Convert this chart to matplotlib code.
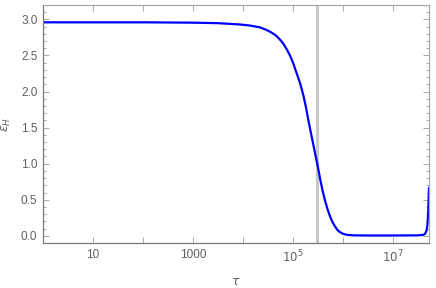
import numpy as np
import matplotlib
matplotlib.use("Agg")
import matplotlib.pyplot as plt
from matplotlib.ticker import FixedLocator, MultipleLocator, NullLocator

# curve: log10(tau) and epsilon_H
log_tau = [0.0, 1.0, 2.0, 3.0, 3.5, 3.94, 4.14, 4.34, 4.45, 4.54, 4.61,
           4.67, 4.74, 4.81, 4.88, 4.94, 5.0, 5.04, 5.09, 5.14, 5.21, 5.26,
           5.30, 5.34, 5.39, 5.44, 5.49, 5.54, 5.59, 5.64, 5.69, 5.74, 5.79,
           5.84, 5.89, 5.94, 6.0, 6.07, 6.2, 6.5, 7.0, 7.5, 7.6, 7.64, 7.67,
           7.69, 7.705, 7.72]
eps_H = [2.96, 2.96, 2.96, 2.955, 2.948, 2.93, 2.915, 2.89, 2.86, 2.83, 2.80,
         2.77, 2.72, 2.66, 2.58, 2.50, 2.40, 2.32, 2.22, 2.12, 1.94, 1.78,
         1.63, 1.49, 1.32, 1.15, 0.98, 0.80, 0.63, 0.49, 0.37, 0.27, 0.19,
         0.13, 0.08, 0.05, 0.028, 0.014, 0.006, 0.004, 0.004, 0.006, 0.012,
         0.025, 0.07, 0.16, 0.35, 0.66]
tau_mark = 3.0e5

x_major = [10, 100, 1000, 1e4, 1e5, 1e6, 1e7]
x_labels = ["10", "", "1000", "", r"$10^5$", "", r"$10^7$"]

tau = 10.0 ** np.array(log_tau)

plt.rcParams['font.family'] = ['Liberation Sans', 'DejaVu Sans']
plt.rcParams['mathtext.fontset'] = 'dejavusans'

fig = plt.figure(figsize=(4.36, 2.88), dpi=100)
ax = fig.add_axes([43/436, 1 - 243/288, (429 - 43)/436, (243 - 5)/288])

ax.axvline(tau_mark, color='#c8c8c8', lw=2.2, zorder=1)
ax.plot(tau, eps_H, color='#0000ff', lw=1.6, zorder=2,
        solid_joinstyle='round')

ax.set_xscale('log')
ax.set_xlim(1, 5.25e7)
ax.set_ylim(-0.1, 3.2)

ax.xaxis.set_major_locator(FixedLocator(x_major))
ax.set_xticklabels(x_labels)
ax.xaxis.set_minor_locator(NullLocator())
ax.yaxis.set_major_locator(MultipleLocator(0.5))
ax.yaxis.set_minor_locator(MultipleLocator(0.1))
ax.yaxis.set_major_formatter(matplotlib.ticker.FormatStrFormatter('%.1f'))

for s in ['left', 'bottom']:
    ax.spines[s].set_color('#7a7a7a')
for s in ['top', 'right']:
    ax.spines[s].set_color('#a8a8a8')
for s in ax.spines.values():
    s.set_linewidth(0.9)

ax.tick_params(which='both', direction='in', top=True, right=True,
               color='#aaaaaa', labelcolor='#606060', labelsize=8.5, width=0.7)
ax.tick_params(which='major', length=4, pad=4)
ax.tick_params(which='minor', length=2.2)

ax.set_xlabel(r'$\tau$', color='#606060', fontsize=9, labelpad=8)
ax.set_ylabel(r'$\epsilon_H$', color='#606060', fontsize=9, labelpad=6)

fig.savefig('out.png', dpi=100)
